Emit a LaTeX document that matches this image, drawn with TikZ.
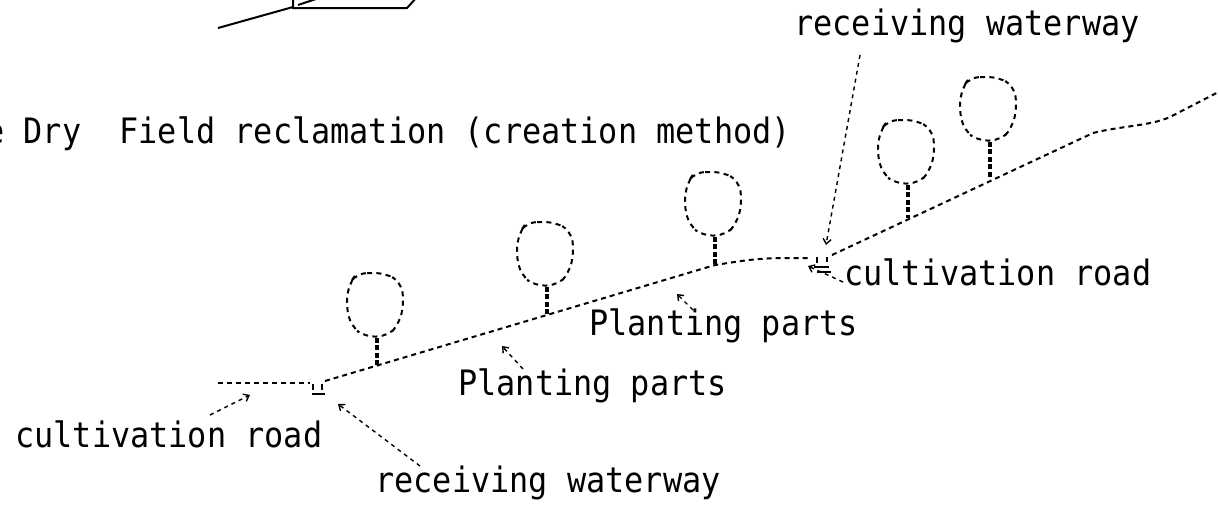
\documentclass[tikz,border=0pt]{standalone}
\usepackage{fontspec}
\newfontfamily\gothic[FakeStretch=0.91]{DejaVu Sans Mono}
\usetikzlibrary{arrows.meta}

\begin{document}
\begin{tikzpicture}[
    x=0.5pt, y=-0.5pt,
    tag/.style={font=\gothic\fontsize{17.5}{20}\selectfont, inner sep=0pt, anchor=base west},
    ground/.style={line width=1pt, dash pattern=on 2.5pt off 2pt},
    stem/.style={line width=1.6pt, dash pattern=on 2.5pt off 1.2pt},
    crownline/.style={line width=1pt, dash pattern=on 2.5pt off 2.2pt, rounded corners=5pt},
    ditch/.style={line width=1pt},
    leader/.style={line width=0.7pt, dash pattern=on 2pt off 2pt, -{Straight Barb[length=2.5pt,width=4pt]}},
    crown/.pic={
        \draw[crownline] (-20,-65) -- (8,-65) -- (24,-56) -- (27,-35) -- (22,-14) -- (11,-2)
            -- (-12,-1) -- (-26,-12) -- (-31,-33) -- (-28,-54) -- cycle;
    }
]
\useasboundingbox (0,0) rectangle (1218,515);
\clip (0,0) rectangle (1218,515);

% Earlier cross-section (solid)
\draw[line width=1pt] (218,28) -- (293,7);
\draw[line width=1pt] (293,-3) -- (293,8) -- (407,8) -- (417,-3);
\draw[line width=1pt] (298,5) -- (322,-3);

% Title
\node[tag] (title) at (-15,143) {e Dry\ \ Field reclamation (creation method)};

% Ground line
\draw[ground] (218,383) -- (310,383);
\draw[ground] (325,381) -- (715,265) .. controls (760,258) .. (811,258);
\draw[ground] (832,255) -- (1093,133) .. controls (1120,126) and (1150,126) .. (1170,117) -- (1230,86);

% Ditches
\draw[ditch] (313,384) -- (313,390) (322,384) -- (322,390) (312,394) -- (325,394);
\draw[ditch] (817,257) -- (817,263) (827,257) -- (827,262) (814,267) -- (829,267) (817,272) -- (831,272);

% Trees
\pic at (377,338) {crown};
\draw[stem] (377,338) -- (377,367);
\pic at (547,287) {crown};
\draw[stem] (547,287) -- (547,316);
\pic at (715,237) {crown};
\draw[stem] (715,237) -- (715,266);
\pic at (908,185) {crown};
\draw[stem] (908,185) -- (908,218);
\pic at (990,142) {crown};
\draw[stem] (990,142) -- (990,177);

% Labels
\node[tag] (topway) at (794,35) {receiving waterway};
\node[tag] (rightroad) at (844,285) {cultivation road};
\node[tag] (upperplant) at (589,335) {Planting parts};
\node[tag] (lowerplant) at (458,395) {Planting parts};
\node[tag] (leftroad) at (15,447) {cultivation road};
\node[tag] (bottomway) at (375,492) {receiving waterway};

% Leader ends
\coordinate (topway-tail) at (860,55);
\coordinate (topway-tip) at (826,245);
\coordinate (rightroad-tail) at (843,282);
\coordinate (rightroad-tip) at (808,266);
\coordinate (upperplant-tail) at (693,310);
\coordinate (upperplant-tip) at (677,294);
\coordinate (lowerplant-tail) at (523,369);
\coordinate (lowerplant-tip) at (502,346);
\coordinate (leftroad-tail) at (210,415);
\coordinate (leftroad-tip) at (250,395);
\coordinate (bottomway-tail) at (420,466);
\coordinate (bottomway-tip) at (338,404);

% Leaders
\draw[leader] (topway-tail) -- (topway-tip);
\draw[leader] (rightroad-tail) -- (rightroad-tip);
\draw[leader] (upperplant-tail) -- (upperplant-tip);
\draw[leader] (lowerplant-tail) -- (lowerplant-tip);
\draw[leader] (leftroad-tail) -- (leftroad-tip);
\draw[leader] (bottomway-tail) -- (bottomway-tip);

\end{tikzpicture}
\end{document}
